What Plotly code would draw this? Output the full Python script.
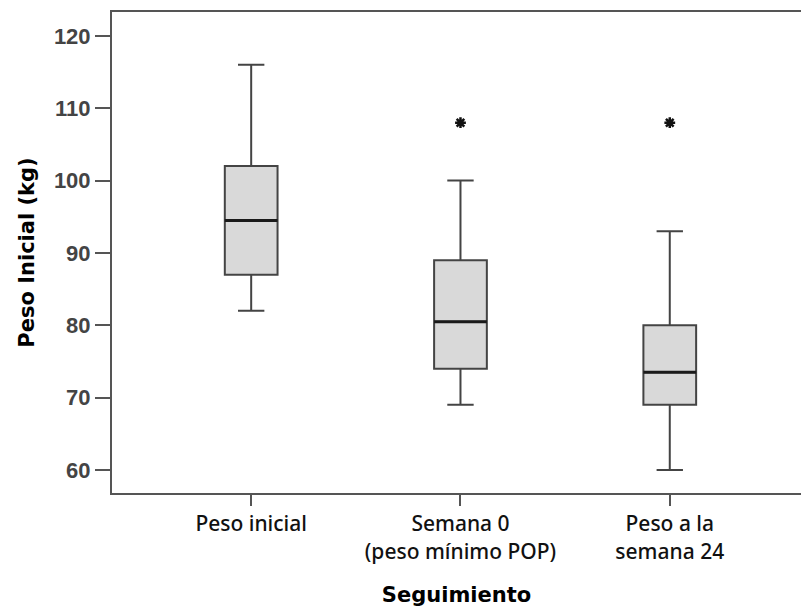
import plotly.graph_objects as go

categories = ["Peso inicial", "Semana 0<br>(peso mínimo POP)", "Peso a la<br>semana 24"]
lower_whisker = [82, 69, 60]
q1_values = [87, 74, 69]
medians = [94.5, 80.5, 73.5]
q3_values = [102, 89, 80]
upper_whisker = [116, 100, 93]
outlier_cat = [1, 2]
outlier_vals = [108, 108]
y_ticks = [60, 70, 80, 90, 100, 110, 120]

positions = list(range(len(categories)))
box_w = 0.252

fig = go.Figure()
fig.add_trace(go.Box(
    x=positions, q1=q1_values, median=medians, q3=q3_values,
    lowerfence=lower_whisker, upperfence=upper_whisker,
    boxpoints=False, width=box_w, whiskerwidth=0.5,
    fillcolor="#d9d9d9", line=dict(color="#444444", width=2),
    showlegend=False, hoverinfo="skip",
))
# thicker median lines, derived from the medians
for p, m in zip(positions, medians):
    fig.add_trace(go.Scatter(
        x=[p - box_w / 2, p + box_w / 2], y=[m, m], mode="lines",
        line=dict(color="#1a1a1a", width=3), showlegend=False, hoverinfo="skip",
    ))
fig.add_trace(go.Scatter(
    x=outlier_cat, y=outlier_vals, mode="markers",
    marker=dict(symbol="asterisk-open", size=9, color="#111111",
                line=dict(color="#111111", width=2.5)),
    showlegend=False, hoverinfo="skip",
))

fig.update_layout(
    width=801, height=611,
    margin=dict(l=112, r=0, t=12, b=118),
    plot_bgcolor="white", paper_bgcolor="white",
    xaxis=dict(
        range=[-0.665, 2.627], tickmode="array", tickvals=positions, ticktext=categories,
        showgrid=False, zeroline=False, showline=True, linecolor="#555555", linewidth=2,
        mirror=True, ticks="outside", ticklen=11, tickwidth=2, tickcolor="#555555",
        tickfont=dict(family="Noto Sans", size=21, color="#111111", weight=500),
        title=dict(text="Seguimiento", standoff=24,
                   font=dict(family="DejaVu Sans", size=21, color="#000000", weight="bold")),
    ),
    yaxis=dict(
        range=[56.82, 123.3], tickmode="array", tickvals=y_ticks,
        showgrid=False, zeroline=False, showline=True, linecolor="#555555", linewidth=2,
        ticks="outside", ticklen=15, tickwidth=2, tickcolor="#555555",
        tickfont=dict(family="Liberation Sans", size=22, color="#444444", weight="bold"),
        title=dict(text="Peso Inicial (kg)", standoff=14,
                   font=dict(family="DejaVu Sans", size=21, color="#000000", weight="bold")),
    ),
)

fig.write_html("out.html", config={"displayModeBar": False},
               post_script="document.body.style.margin='0';")
